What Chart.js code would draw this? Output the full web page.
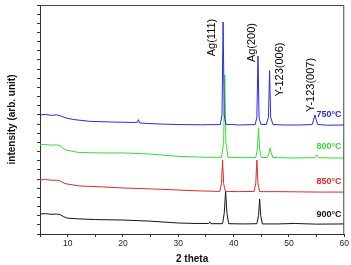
<!DOCTYPE html>
<html>
<head>
<meta charset="utf-8">
<script src="https://cdn.jsdelivr.net/npm/chart.js@4"></script>
<style>
  html, body { margin: 0; padding: 0; background: #fff; }
</style>
</head>
<body>
<canvas id="xrdChart" width="351" height="265"></canvas>
<script>
// 2 theta positions and intensities (arb. unit, offset per temperature)
const theta750 = [5, 6, 7, 8, 8.6, 9.5, 11, 14, 18, 22, 22.6, 22.8, 23.0, 24, 27, 30, 34, 37.6, 37.9, 38.1, 38.3, 38.6, 41, 43.9, 44.2, 44.4, 44.6, 44.9, 45.9, 46.3, 46.5, 46.7, 47.1, 49, 52, 54.2, 54.5, 54.7, 54.9, 55.2, 57, 60];
const int750 = [52.0, 52.2, 51.8, 52.0, 51.7, 50.8, 50.0, 49.2, 48.9, 48.7, 48.8, 49.9, 48.5, 48.3, 48.0, 47.8, 47.7, 47.8, 52, 92.6, 52, 47.9, 47.6, 47.8, 51, 77.7, 51, 47.9, 47.8, 51, 71.3, 51, 47.8, 47.6, 47.6, 47.8, 50.2, 52.0, 50.2, 47.8, 47.5, 47.6];

const theta800 = [5, 6, 7, 8, 8.6, 9.5, 12, 16, 20, 25, 30, 35, 37.8, 38.2, 38.4, 38.6, 39.0, 42, 44.0, 44.3, 44.5, 44.7, 45.0, 46.1, 46.4, 46.6, 46.8, 47.1, 50, 54.6, 55.0, 55.4, 58, 60];
const int800 = [38.9, 39.1, 38.8, 38.9, 38.6, 36.8, 35.6, 35.4, 35.4, 34.9, 33.9, 33.5, 33.5, 40, 69.4, 40, 33.5, 33.3, 33.4, 37, 46.3, 37, 33.4, 33.4, 35.5, 37.6, 35.5, 33.4, 33.2, 33.3, 34.6, 33.3, 33.2, 33.2];

const theta850 = [5, 6, 7, 8, 8.6, 9.5, 12, 16, 20, 25, 30, 34, 37.5, 37.8, 38.0, 38.2, 38.5, 41, 43.7, 44.0, 44.2, 44.4, 44.7, 48, 52, 56, 60];
const int850 = [23.6, 23.8, 23.5, 23.5, 23.2, 22.0, 21.0, 20.6, 20.1, 19.7, 19.2, 18.8, 18.6, 22, 32.3, 22, 18.6, 18.5, 18.6, 22, 32.3, 22, 18.5, 18.5, 18.4, 18.3, 18.3];

const theta900 = [5, 6, 7, 8, 8.6, 9.3, 10, 12, 15, 20, 25, 30, 33, 35.5, 35.7, 35.9, 38.0, 38.3, 38.55, 38.8, 39.1, 42, 44.2, 44.5, 44.7, 44.9, 45.2, 48, 51, 55, 60];
const int900 = [8.7, 8.9, 8.6, 8.7, 8.5, 7.5, 6.9, 6.6, 6.3, 6.1, 5.6, 4.8, 4.6, 4.6, 5.3, 4.5, 4.5, 9, 18.5, 9, 4.5, 4.4, 4.5, 8, 15.3, 8, 4.4, 4.4, 4.6, 4.3, 4.4];

const seriesLabels = ['750°C', '800°C', '850°C', '900°C'];
const peakLabels = ['Ag(111)', 'Ag(200)', 'Y-123(006)', 'Y-123(007)'];
const xTickLabels = [10, 20, 30, 40, 50, 60];

const fuente = 'Arial, "Liberation Sans", sans-serif';
const colores = ['#2b2be6', '#33dd33', '#e62828', '#151515'];

function puntos(xs, ys) {
    return xs.map((x, i) => ({ x: x, y: ys[i] }));
}

// marco + etiquetas de texto
const anotaciones = {
    id: 'anotaciones',
    afterDatasetsDraw(chart) {
        const ctx = chart.ctx;
        const a = chart.chartArea;
        const sx = chart.scales.x;
        const sy = chart.scales.y;

        ctx.save();
        ctx.strokeStyle = '#444';
        ctx.lineWidth = 1;
        ctx.beginPath();
        ctx.moveTo(a.left, a.top + 0.5);
        ctx.lineTo(a.right - 0.5, a.top + 0.5);
        ctx.lineTo(a.right - 0.5, a.bottom);
        ctx.stroke();

        // etiquetas de temperatura
        const posY = [52.0, 38.1, 22.8, 8.3];
        ctx.font = 'bold 9px ' + fuente;
        ctx.textAlign = 'right';
        ctx.textBaseline = 'middle';
        seriesLabels.forEach((t, i) => {
            ctx.fillStyle = colores[i];
            ctx.fillText(t, sx.getPixelForValue(59.5), sy.getPixelForValue(posY[i]));
        });

        // etiquetas de picos, rotadas
        const picos = [[36.0, 85.8], [43.3, 83.6], [48.4, 71.8], [53.9, 65.1]];
        ctx.font = '11px ' + fuente;
        ctx.fillStyle = '#000';
        ctx.textAlign = 'center';
        peakLabels.forEach((t, i) => {
            ctx.save();
            ctx.translate(sx.getPixelForValue(picos[i][0]), sy.getPixelForValue(picos[i][1]));
            ctx.rotate(-Math.PI / 2);
            ctx.fillText(t, 0, 0);
            ctx.restore();
        });
        ctx.restore();
    }
};

const ctx = document.getElementById('xrdChart').getContext('2d');

new Chart(ctx, {
    type: 'line',
    data: {
        datasets: [
            { label: seriesLabels[0], data: puntos(theta750, int750), borderColor: colores[0] },
            { label: seriesLabels[1], data: puntos(theta800, int800), borderColor: colores[1] },
            { label: seriesLabels[2], data: puntos(theta850, int850), borderColor: colores[2] },
            { label: seriesLabels[3], data: puntos(theta900, int900), borderColor: colores[3] }
        ]
    },
    options: {
        responsive: false,
        animation: false,
        layout: { padding: { top: 5, right: 5, left: 0, bottom: 0 } },
        elements: {
            line: { borderWidth: 1, tension: 0 },
            point: { radius: 0 }
        },
        plugins: {
            legend: { display: false },
            tooltip: { enabled: false }
        },
        scales: {
            x: {
                type: 'linear',
                min: 5,
                max: 60,
                afterFit: s => { s.height = 31; },
                border: { color: '#333' },
                grid: { drawOnChartArea: false, tickLength: 3, color: '#333' },
                ticks: {
                    stepSize: 5,
                    autoSkip: false,
                    maxRotation: 0,
                    padding: 2,
                    color: '#222',
                    font: { family: fuente, size: 8.5 },
                    callback: v => xTickLabels.includes(v) ? v : ''
                },
                title: {
                    display: true,
                    text: '2 theta',
                    color: '#111',
                    font: { family: fuente, size: 10, weight: 'bold' },
                    padding: { top: 0, bottom: 0 }
                }
            },
            y: {
                min: 0,
                max: 100,
                afterFit: s => { s.width = 40; },
                border: { color: '#333' },
                grid: { drawOnChartArea: false, tickLength: 3, color: '#333' },
                ticks: { stepSize: 4, display: false },
                title: {
                    display: true,
                    text: 'intensity (arb. unit)',
                    color: '#111',
                    font: { family: fuente, size: 10, weight: 'bold' },
                    padding: { top: 6, bottom: 0 }
                }
            }
        }
    },
    plugins: [anotaciones]
});
</script>
</body>
</html>
